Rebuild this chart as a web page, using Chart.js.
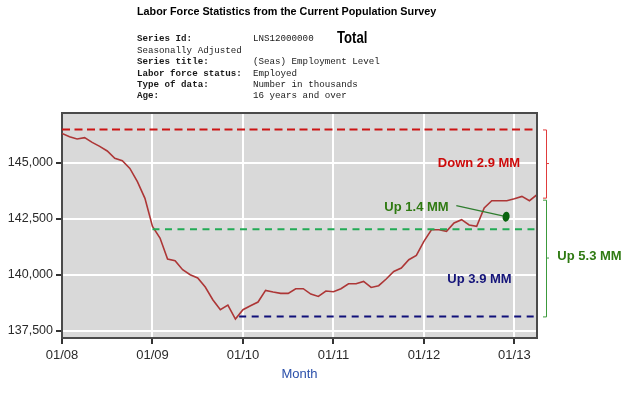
<!DOCTYPE html>
<html><head><meta charset="utf-8">
<script src="https://cdn.jsdelivr.net/npm/chart.js@4/dist/chart.umd.min.js"></script>
<style>html,body{margin:0;padding:0;background:#fff;} canvas{display:block;}</style>
</head><body>
<canvas id="c" width="640" height="396" style="width:640px;height:396px"></canvas>
<script>
// Monthly employment level (thousands), Jan 2008 .. Apr 2013
const employment = [
  146324,146176,146073,146131,145921,145742,145537,145206,145103,144759,144164,143417,
  142165,141646,140707,140631,140228,140005,139857,139455,138887,138440,138650,138024,
  138440,138619,138784,139303,139231,139169,139169,139379,139379,139140,139034,139273,
  139244,139379,139602,139602,139705,139437,139513,139812,140152,140304,140676,140868,
  141494,142017,142017,141941,142317,142464,142227,142165,142988,143314,143314,143314,
  143403,143506,143314,143582
];
const tickMonths = [0,12,24,36,48,60];
const tickLabels = ['01/08','01/09','01/10','01/11','01/12','01/13'];
const yTicks = [137500,140000,142500,145000];
const peakLevel = 146500;      // red dashed
const recoveryLevel = 142040;  // green dashed
const troughLevel = 138140;    // navy dashed
const recoveryStart = 12;
const troughStart = 23.5;
const downBracket = [146500, 143450];
const upBracket = [143360, 138140];
const arrowFrom = [52.3, 143090];
const arrowTo = [58.9, 142598];
const headerLabels = ['Series Id:','Seasonally Adjusted','Series title:','Labor force status:','Type of data:','Age:'];
const headerValues = ['LNS12000000','','(Seas) Employment Level','Employed','Number in thousands','16 years and over'];
const lastMonth = employment.length - 1;

const decor = {
  id: 'decor',
  beforeDraw(chart) {
    const {ctx, chartArea: a} = chart;
    ctx.save();
    ctx.fillStyle = '#d9d9d9';
    ctx.fillRect(a.left, a.top, a.right - a.left, a.bottom - a.top);
    ctx.restore();
  },
  afterDraw(chart) {
    const {ctx, chartArea: a, scales: {x, y}} = chart;
    ctx.save();
    // top & right frame
    ctx.strokeStyle = '#4a4a4a';
    ctx.lineWidth = 2;
    ctx.beginPath();
    ctx.moveTo(a.left, a.top); ctx.lineTo(a.right, a.top); ctx.lineTo(a.right, a.bottom);
    ctx.stroke();

    // brackets
    const bx = a.right + 9;
    function bracket(vals, color) {
      const y1 = y.getPixelForValue(vals[0]), y2 = y.getPixelForValue(vals[1]);
      const ym = (y1 + y2) / 2;
      ctx.strokeStyle = color; ctx.lineWidth = 1;
      ctx.beginPath();
      ctx.moveTo(bx - 3, y1 + 0.5); ctx.lineTo(bx + 0.5, y1 + 0.5); ctx.lineTo(bx + 0.5, y2 + 0.5); ctx.lineTo(bx - 3, y2 + 0.5);
      ctx.moveTo(bx + 0.5, ym); ctx.lineTo(bx + 3, ym);
      ctx.stroke();
    }
    bracket(downBracket, '#e03c3c');
    bracket(upBracket, '#3c9a3c');

    // arrow
    const ax1 = x.getPixelForValue(arrowFrom[0]), ay1 = y.getPixelForValue(arrowFrom[1]);
    const ax2 = x.getPixelForValue(arrowTo[0]), ay2 = y.getPixelForValue(arrowTo[1]);
    ctx.strokeStyle = '#2e7d2e'; ctx.lineWidth = 1.2;
    ctx.beginPath(); ctx.moveTo(ax1, ay1); ctx.lineTo(ax2, ay2); ctx.stroke();
    ctx.fillStyle = '#0a6410';
    ctx.beginPath(); ctx.ellipse(ax2, ay2, 3.5, 5, 0.15, 0, Math.PI * 2); ctx.fill();

    // annotation texts
    ctx.textAlign = 'center'; ctx.textBaseline = 'middle';
    ctx.font = 'bold 13px "Liberation Sans", Arial, sans-serif';
    ctx.fillStyle = '#cc0a0a'; ctx.fillText('Down 2.9 MM', 479, 163);
    ctx.fillStyle = '#2f7a12'; ctx.fillText('Up 1.4 MM', 416.5, 207);
    ctx.fillStyle = '#14147a'; ctx.fillText('Up 3.9 MM', 479.5, 279);
    ctx.fillStyle = '#2f7a12'; ctx.fillText('Up 5.3 MM', 589.5, 256);

    // header
    ctx.textAlign = 'left';
    ctx.fillStyle = '#000';
    ctx.font = 'bold 10.8px "Liberation Sans", Arial, sans-serif';
    ctx.fillText('Labor Force Statistics from the Current Population Survey', 137, 12.5);
    const lh = 11.4;
    headerLabels.forEach((t, i) => {
      ctx.font = (i === 1 ? '' : 'bold ') + '9.2px "Liberation Mono", "Courier New", monospace';
      ctx.fillStyle = '#1a1a1a';
      ctx.fillText(t, 137, 39 + i * lh);
      if (headerValues[i]) {
        ctx.font = '9.2px "Liberation Mono", "Courier New", monospace';
        ctx.fillText(headerValues[i], 253, 39 + i * lh);
      }
    });
    ctx.save();
    ctx.translate(337, 39);
    ctx.scale(0.82, 1);
    ctx.font = 'bold 16px "Liberation Sans", Arial, sans-serif';
    ctx.fillStyle = '#000';
    ctx.fillText('Total', 0, 0);
    ctx.restore();
    ctx.restore();
  }
};

const pts = employment.map((v, i) => ({x: i, y: v}));
const hline = (from, level) => [{x: from, y: level}, {x: lastMonth, y: level}];

new Chart(document.getElementById('c'), {
  type: 'line',
  data: {
    datasets: [
      {data: hline(0, peakLevel), borderColor: '#cc1414', borderWidth: 2, borderDash: [8, 4.5], pointRadius: 0},
      {data: hline(recoveryStart, recoveryLevel), borderColor: '#22aa55', borderWidth: 2, borderDash: [7, 5.5], pointRadius: 0},
      {data: hline(troughStart, troughLevel), borderColor: '#10107a', borderWidth: 2, borderDash: [7, 5.5], pointRadius: 0},
      {data: pts, borderColor: '#ad3636', borderWidth: 1.6, pointRadius: 0, tension: 0}
    ]
  },
  options: {
    responsive: false,
    animation: false,
    layout: {padding: {top: 113, right: 103, left: 0, bottom: 0}},
    plugins: {legend: {display: false}, tooltip: {enabled: false}},
    scales: {
      x: {
        type: 'linear', min: 0, max: lastMonth,
        afterBuildTicks: s => { s.ticks = tickMonths.map(v => ({value: v})); },
        afterFit: s => { s.height = 58; },
        ticks: {
          callback: v => tickLabels[tickMonths.indexOf(v)],
          font: {family: '"Liberation Sans", Arial, sans-serif', size: 13},
          color: '#2a2a2a', padding: 3.5, maxRotation: 0
        },
        grid: {color: '#ffffff', lineWidth: 2, tickColor: '#333', tickLength: 6},
        border: {display: true, color: '#4a4a4a', width: 2},
        title: {display: true, text: 'Month', color: '#2a4faa',
          font: {family: '"Liberation Sans", Arial, sans-serif', size: 13},
          padding: {top: 14, bottom: 14}}
      },
      y: {
        min: 137175, max: 147235,
        afterBuildTicks: s => { s.ticks = yTicks.map(v => ({value: v})); },
        afterFit: s => { s.width = 62; },
        ticks: {
          callback: v => v.toLocaleString('en-US'),
          font: {family: '"Liberation Sans", Arial, sans-serif', size: 12.5},
          color: '#2a2a2a', padding: 3
        },
        grid: {color: '#ffffff', lineWidth: 2, tickColor: '#333', tickLength: 6},
        border: {display: true, color: '#4a4a4a', width: 2}
      }
    }
  },
  plugins: [decor]
});
</script>
</body></html>
